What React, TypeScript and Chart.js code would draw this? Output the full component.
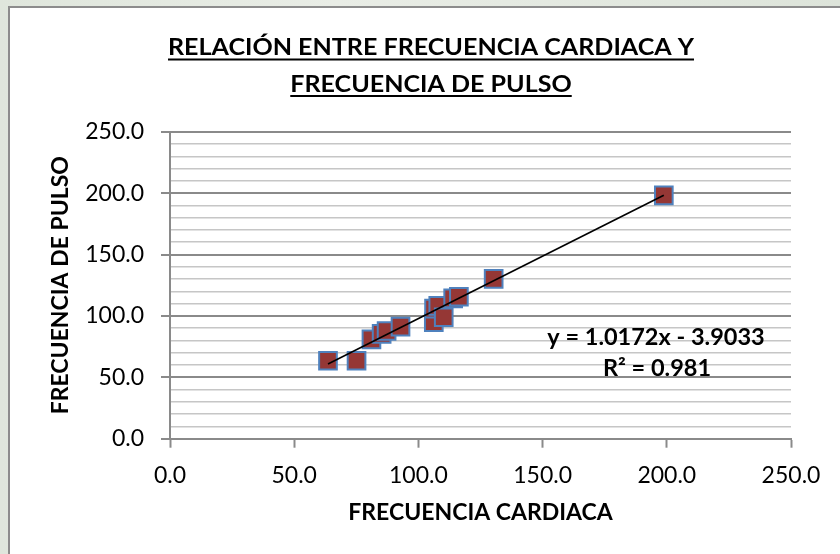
import React, { useEffect, useRef } from 'react';
import { Chart, registerables } from 'chart.js';

Chart.register(...registerables);

const titleLines = ['RELACIÓN ENTRE FRECUENCIA CARDIACA Y', 'FRECUENCIA DE PULSO'];
const xAxisTitle = 'FRECUENCIA CARDIACA';
const yAxisTitle = 'FRECUENCIA DE PULSO';

const frecuenciaCardiaca = [63.6, 75.1, 81.1, 85.2, 87.2, 92.8, 106.2, 106.3, 108.0, 110.2, 114.0, 116.3, 130.3, 198.8];
const frecuenciaPulso = [63.5, 63.5, 80.9, 85.3, 87.7, 91.2, 94.8, 105.9, 108.1, 98.9, 114.3, 115.6, 130.1, 198.2];

const trendSlope = 1.0172;
const trendIntercept = -3.9033;
const equationLines = ['y = 1.0172x - 3.9033', 'R² = 0.981'];

const axisMin = 0;
const axisMax = 250;
const majorStep = 50;
const minorStep = 10;

const FONT = 'Lato, "Open Sans", sans-serif';
const MAJOR = '#8a8a8a';
const MINOR = '#c6c6c6';

const overlayPlugin = {
  id: 'overlayText',
  afterDraw(chart: any) {
    const ctx = chart.ctx;
    const area = chart.chartArea;
    ctx.save();
    ctx.fillStyle = '#000';
    ctx.textAlign = 'center';
    ctx.textBaseline = 'alphabetic';
    // Title (condensed to mimic the original's narrow face)
    const cx = 431;
    const baselines = [55, 91.5];
    const underlines = [59.5, 96];
    ctx.font = `bold 23.5px ${FONT}`;
    const w0 = ctx.measureText(titleLines[0]).width;
    const sx = 526 / w0;
    titleLines.forEach((t, i) => {
      const w = ctx.measureText(t).width * sx;
      ctx.save();
      ctx.translate(cx, baselines[i]);
      ctx.scale(sx, 1);
      ctx.fillText(t, 0, 0);
      ctx.restore();
      ctx.fillRect(cx - w / 2, underlines[i] - 1, w, 2);
    });
    // Y axis title
    ctx.save();
    ctx.font = `bold 23px ${FONT}`;
    ctx.textBaseline = 'middle';
    ctx.translate(61, (area.top + area.bottom) / 2);
    ctx.rotate(-Math.PI / 2);
    ctx.fillText(yAxisTitle, 0, 0);
    ctx.restore();
    // Trend equation
    ctx.font = `bold 23.5px ${FONT}`;
    ctx.fillText(equationLines[0], 656, 345);
    ctx.fillText(equationLines[1], 657, 376);
    ctx.restore();
  },
};

export default function App() {
  const ref = useRef<HTMLCanvasElement | null>(null);
  useEffect(() => {
    if (!ref.current) return;
    const xMin = Math.min(...frecuenciaCardiaca);
    const xMax = Math.max(...frecuenciaCardiaca);
    const trend = [xMin, xMax].map((x) => ({ x, y: trendSlope * x + trendIntercept }));
    const points = frecuenciaCardiaca.map((x, i) => ({ x, y: frecuenciaPulso[i] }));
    const chart = new Chart(ref.current, {
      type: 'scatter',
      data: {
        datasets: [
          {
            type: 'line',
            label: 'Tendencia',
            data: trend,
            borderColor: '#000',
            borderWidth: 1.6,
            pointRadius: 0,
            fill: false,
          } as any,
          {
            label: 'Frecuencia',
            data: points,
            pointStyle: 'rect',
            pointRadius: 12.5,
            pointHoverRadius: 12.5,
            backgroundColor: '#953735',
            borderColor: '#4f81bd',
            borderWidth: 2,
          },
        ],
      },
      options: {
        responsive: false,
        animation: false,
        events: [],
        layout: { padding: { left: 0, right: 49, top: 131.7, bottom: 0 } },
        plugins: {
          legend: { display: false },
          title: { display: false },
          tooltip: { enabled: false },
        },
        scales: {
          x: {
            type: 'linear',
            min: axisMin,
            max: axisMax,
            afterFit: (s: any) => {
              s.height = 554 - 438.7;
            },
            ticks: {
              stepSize: majorStep,
              callback: (v: any) => Number(v).toFixed(1),
              font: { family: FONT, size: 23 },
              color: '#000',
              padding: 14,
              maxRotation: 0,
              autoSkip: false,
            },
            grid: {
              drawOnChartArea: false,
              drawTicks: true,
              tickLength: 9,
              tickColor: MAJOR,
              tickWidth: 2,
            },
            border: { color: MAJOR, width: 2 },
            title: {
              display: true,
              text: xAxisTitle,
              font: { family: FONT, size: 23, weight: 'bold' },
              color: '#000',
              padding: { top: 0, bottom: 28 },
            },
          },
          y: {
            type: 'linear',
            min: axisMin,
            max: axisMax,
            afterFit: (s: any) => {
              s.width = 170;
            },
            ticks: {
              stepSize: minorStep,
              autoSkip: false,
              callback: (v: any) => (Number(v) % majorStep === 0 ? Number(v).toFixed(1) : ''),
              font: { family: FONT, size: 23 },
              color: '#000',
              padding: 17,
            },
            grid: {
              color: (c: any) => (c.tick && c.tick.value % majorStep === 0 ? MAJOR : MINOR),
              lineWidth: (c: any) => (c.tick && c.tick.value % majorStep === 0 ? 2 : 1.5),
              drawTicks: true,
              tickLength: 9,
              tickColor: (c: any) => (c.tick && c.tick.value % majorStep === 0 ? MAJOR : 'rgba(0,0,0,0)'),
              tickWidth: 2,
            },
            border: { color: MAJOR, width: 2 },
            title: { display: false },
          },
        },
      },
      plugins: [overlayPlugin],
    });
    return () => chart.destroy();
  }, []);

  return (
    <div
      style={{
        position: 'fixed',
        inset: 0,
        overflow: 'hidden',
        background: 'linear-gradient(90deg, #dfe6dc, #e9ede6 40%, #dde4da)',
      }}
    >
      <div
        style={{
          position: 'absolute',
          left: 8,
          top: 6,
          width: 900,
          height: 620,
          background: '#fff',
          border: '2px solid #8c8c8c',
        }}
      />
      <canvas
        ref={ref}
        width={840}
        height={554}
        style={{ position: 'absolute', left: 0, top: 0, width: 840, height: 554 }}
      />
    </div>
  );
}
